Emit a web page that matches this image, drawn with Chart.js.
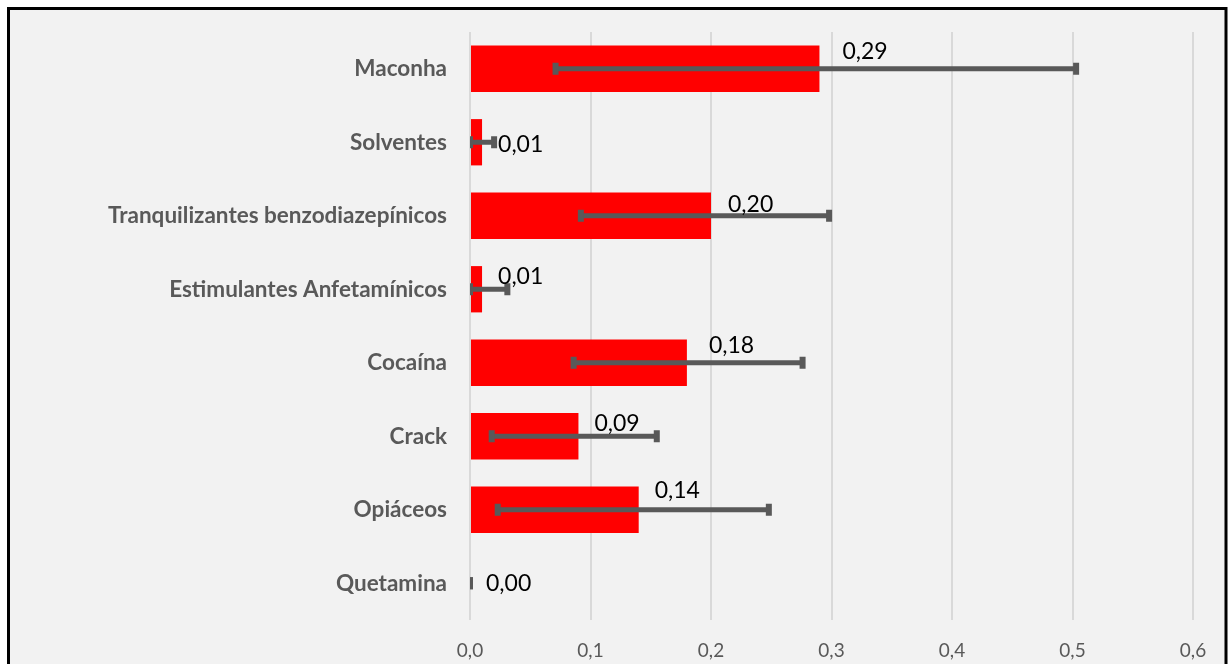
<!DOCTYPE html>
<html>
<head>
    <meta charset="utf-8">
    <title>Consumo de substâncias</title>
    <script src="https://cdn.jsdelivr.net/npm/chart.js"></script>
    <style>
        body {
            margin: 0;
            background: #ffffff;
        }
        #wrap {
            width: 1228px;
            height: 664px;
        }
    </style>
</head>
<body>
    <div id="wrap">
        <canvas id="drugChart" width="1228" height="664"></canvas>
    </div>

    <script>
        // data
        const categories = ['Maconha', 'Solventes', 'Tranquilizantes benzodiazepínicos', 'Estimulantes Anfetamínicos',
            'Cocaína', 'Crack', 'Opiáceos', 'Quetamina'];
        const values = [0.29, 0.01, 0.20, 0.01, 0.18, 0.09, 0.14, 0.00];
        const errLow = [0.071, 0.00, 0.092, 0.00, 0.086, 0.018, 0.023, 0.00];
        const errHigh = [0.503, 0.020, 0.298, 0.031, 0.276, 0.155, 0.248, 0.00];
        const xMin = 0, xMax = 0.6, xStep = 0.1;

        // label nudges (px) from the bar end / bar centre, as placed in the original
        const labelOffsets = [[23, -17], [16, 2], [17, -11], [16, -13], [22, -17], [16, -13], [16, -19], [16, 0]];

        const comma = (v, d) => v.toFixed(d).replace('.', ',');

        const frame = {
            id: 'frame',
            beforeDraw(chart) {
                const ctx = chart.ctx;
                ctx.save();
                ctx.fillStyle = '#ffffff';
                ctx.fillRect(0, 0, chart.width, chart.height);
                ctx.fillStyle = '#f2f2f2';
                ctx.fillRect(8, 8, 1218, 700);
                ctx.strokeStyle = '#000000';
                ctx.lineWidth = 3;
                ctx.strokeRect(8.5, 8.5, 1217.5, 700);
                ctx.restore();
            }
        };

        const errorBars = {
            id: 'errorBars',
            afterDatasetsDraw(chart) {
                const ctx = chart.ctx;
                const xs = chart.scales.x, ys = chart.scales.y;
                const area = chart.chartArea;
                ctx.save();
                ctx.beginPath();
                ctx.rect(area.left, area.top, area.right - area.left, area.bottom - area.top);
                ctx.clip();
                ctx.strokeStyle = '#595959';
                ctx.fillStyle = '#595959';
                ctx.lineWidth = 5;
                for (let i = 0; i < categories.length; i++) {
                    const y = ys.getPixelForValue(i);
                    const x1 = xs.getPixelForValue(errLow[i]);
                    const x2 = xs.getPixelForValue(errHigh[i]);
                    ctx.beginPath();
                    ctx.moveTo(x1, y);
                    ctx.lineTo(x2, y);
                    ctx.stroke();
                    ctx.fillRect(x1 - 3, y - 6, 6, 12);
                    ctx.fillRect(x2 - 3, y - 6, 6, 12);
                }
                ctx.restore();

                // data labels
                ctx.save();
                ctx.font = '23px Lato';
                ctx.fillStyle = '#000000';
                ctx.textAlign = 'left';
                ctx.textBaseline = 'middle';
                for (let i = 0; i < values.length; i++) {
                    const x = xs.getPixelForValue(values[i]) + labelOffsets[i][0];
                    const y = ys.getPixelForValue(i) + labelOffsets[i][1];
                    ctx.fillText(comma(values[i], 2), x, y);
                }
                ctx.restore();
            }
        };

        new Chart(document.getElementById('drugChart'), {
            type: 'bar',
            data: {
                labels: categories,
                datasets: [{
                    data: values,
                    backgroundColor: '#ff0000',
                    barPercentage: 0.63,
                    categoryPercentage: 1
                }]
            },
            options: {
                indexAxis: 'y',
                responsive: false,
                animation: false,
                layout: {
                    padding: { top: 32, right: 35, bottom: 0, left: 0 }
                },
                plugins: {
                    legend: { display: false },
                    tooltip: { enabled: false }
                },
                scales: {
                    x: {
                        min: xMin,
                        max: xMax,
                        grid: { color: '#d9d9d9', lineWidth: 2, drawTicks: false },
                        border: { display: false },
                        ticks: {
                            stepSize: xStep,
                            padding: 19,
                            color: '#595959',
                            font: { family: 'Lato', size: 19 },
                            callback: v => comma(v, 1)
                        },
                        afterFit: s => { s.height = 44; s.paddingLeft = 0; s.paddingRight = 0; }
                    },
                    y: {
                        grid: { display: false, drawTicks: false },
                        border: { display: false },
                        ticks: {
                            padding: 23,
                            color: '#595959',
                            font: { family: 'Lato', size: 22.5, weight: 'bold' }
                        },
                        afterFit: s => { s.width = 470; s.paddingTop = 0; s.paddingBottom = 0; }
                    }
                }
            },
            plugins: [frame, errorBars]
        });
    </script>
</body>
</html>
